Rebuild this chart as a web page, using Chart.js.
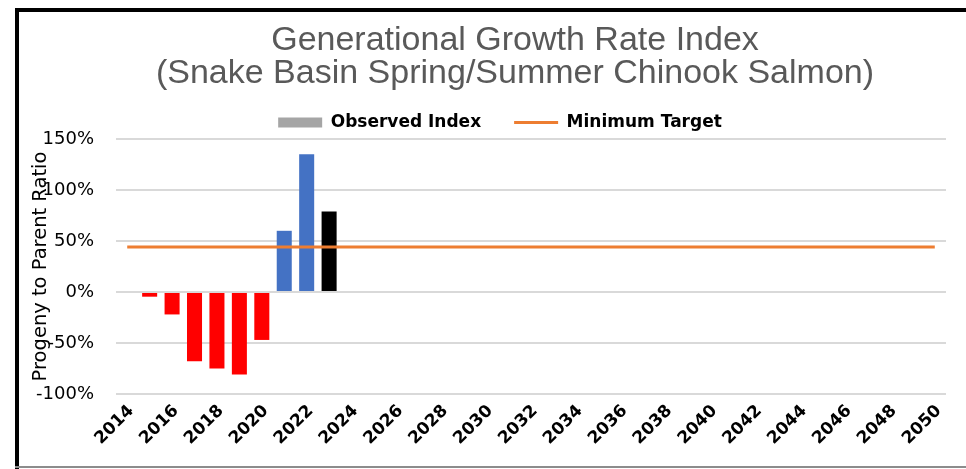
<!DOCTYPE html>
<html>
<head>
<meta charset="utf-8">
<script src="https://cdn.jsdelivr.net/npm/chart.js"></script>
<style>
  html, body { margin: 0; padding: 0; background: #fff; }
</style>
</head>
<body>
<canvas id="myChart" width="966" height="469"></canvas>
<script>
// chart data
const years = ['2014', '2015', '2016', '2017', '2018', '2019', '2020', '2021', '2022', '2023',
  '2024', '2025', '2026', '2027', '2028', '2029', '2030', '2031', '2032', '2033',
  '2034', '2035', '2036', '2037', '2038', '2039', '2040', '2041', '2042', '2043',
  '2044', '2045', '2046', '2047', '2048', '2049', '2050'];
const observedIndex = [null, -4.6, -22, -68, -75, -81, -47, 60, 135, 79,
  null, null, null, null, null, null, null, null, null, null,
  null, null, null, null, null, null, null, null, null, null,
  null, null, null, null, null, null, null];
const minimumTarget = [44, 44, 44, 44, 44, 44, 44, 44, 44, 44,
  44, 44, 44, 44, 44, 44, 44, 44, 44, 44,
  44, 44, 44, 44, 44, 44, 44, 44, 44, 44,
  44, 44, 44, 44, 44, 44, 44];
const titleLines = ['Generational Growth Rate Index', '(Snake Basin Spring/Summer Chinook Salmon)'];

// bar colours by year, red otherwise
const specialColors = { '2021': '#4472C4', '2022': '#4472C4', '2023': '#000000' };
const barColors = years.map(y => specialColors[y] || '#FF0000');

const frame = {
  id: 'frame',
  afterLayout(chart) {
    // legend sits a little right of the page centre
    chart.legend.left += 11;
    chart.legend.right += 11;
  },
  afterDraw(chart) {
    const c = chart.ctx;
    c.save();
    c.fillStyle = '#000';
    c.fillRect(15, 8, 4, 461);
    c.fillRect(15, 8, 951, 4);
    c.fillStyle = '#8c8c8c';
    c.fillRect(15, 466, 951, 2);
    // title
    c.fillStyle = '#595959';
    c.font = '34px "Liberation Sans"';
    c.textAlign = 'center';
    c.textBaseline = 'middle';
    c.fillText(titleLines[0], 515, 41);
    c.fillText(titleLines[1], 515, 74);
    c.restore();
  }
};

const ctx = document.getElementById('myChart');

new Chart(ctx, {
  type: 'bar',
  data: {
    labels: years,
    datasets: [{
      type: 'line',
      label: 'Minimum Target',
      data: minimumTarget,
      borderColor: '#ED7D31',
      borderWidth: 3,
      pointRadius: 0,
      order: 0
    }, {
      type: 'bar',
      label: 'Observed Index',
      data: observedIndex,
      backgroundColor: barColors,
      categoryPercentage: 1,
      barPercentage: 0.67,
      order: 1
    }]
  },
  options: {
    responsive: false,
    animation: false,
    layout: { padding: { left: 32, right: 20, top: 81, bottom: 2 } },
    plugins: {
      tooltip: { enabled: false },
      legend: {
        maxHeight: 58,
        labels: {
          usePointStyle: true,
          pointStyleWidth: 44,
          boxHeight: 10,
          padding: 33,
          color: '#000',
          font: { family: 'DejaVu Sans', size: 17, weight: 'bold' },
          generateLabels: (chart) => {
            const ds = chart.data.datasets;
            return [
              { text: ds[1].label, fillStyle: '#A5A5A5', strokeStyle: '#A5A5A5', lineWidth: 0, pointStyle: 'rect', hidden: false, datasetIndex: 1 },
              { text: ds[0].label, fillStyle: '#ED7D31', strokeStyle: '#ED7D31', lineWidth: 3, pointStyle: 'line', hidden: false, datasetIndex: 0 }
            ];
          }
        }
      }
    },
    scales: {
      x: {
        grid: { display: false, drawTicks: false },
        border: { display: false },
        ticks: {
          autoSkip: false,
          maxRotation: 45,
          minRotation: 45,
          padding: 7,
          labelOffset: 4,
          color: '#000',
          font: { family: 'DejaVu Sans', size: 17, weight: 'bold' },
          callback: (v, i) => (i % 2 === 0 ? years[i] : '')
        },
        afterFit: (s) => { s.height = 73; }
      },
      y: {
        min: -100,
        max: 150,
        grid: { color: '#D9D9D9', lineWidth: 2, drawTicks: false },
        border: { display: false },
        ticks: {
          stepSize: 50,
          padding: 22,
          color: '#000',
          font: { family: 'DejaVu Sans', size: 18 },
          callback: (v) => v + '%'
        },
        title: {
          display: true,
          text: 'Progeny to Parent Ratio',
          color: '#000',
          font: { family: 'DejaVu Sans', size: 19.5 },
          padding: { top: -3, bottom: -40 }
        },
        afterFit: (s) => { s.width = 84; }
      }
    }
  },
  plugins: [frame]
});
</script>
</body>
</html>
